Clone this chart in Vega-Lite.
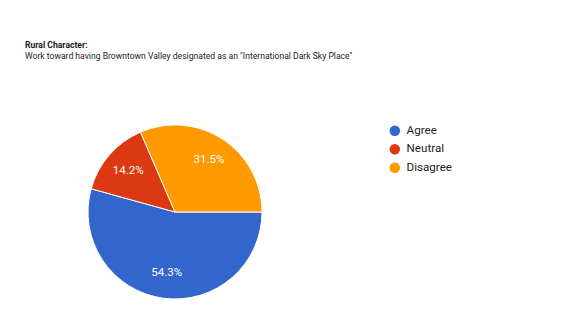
{
  "$schema": "https://vega.github.io/schema/vega-lite/v6.json",
  "width": 174,
  "height": 174,
  "autosize": {"type": "none"},
  "padding": {"left": 88, "top": 125, "right": 315, "bottom": 28},
  "background": "white",
  "title": {
    "text": "Rural Character:",
    "subtitle": "Work toward having Browntown Valley designated as an \"International Dark Sky Place\"",
    "anchor": "start",
    "frame": "group",
    "dx": -63,
    "offset": 62,
    "font": "Roboto",
    "fontSize": 8.6,
    "fontWeight": "bold",
    "color": "#222222",
    "subtitleFont": "Roboto",
    "subtitleFontSize": 8.6,
    "subtitleColor": "#222222",
    "subtitlePadding": 3
  },
  "data": {
    "values": [
      {"response": "Agree", "pct": 54.3, "label": "54.3%", "order": 1},
      {"response": "Neutral", "pct": 14.2, "label": "14.2%", "order": 2},
      {"response": "Disagree", "pct": 31.5, "label": "31.5%", "order": 3}
    ]
  },
  "encoding": {
    "theta": {"field": "pct", "type": "quantitative", "stack": true, "scale": {"range": [1.5708, 7.854]}},
    "order": {"field": "order", "type": "quantitative"},
    "color": {
      "field": "response",
      "type": "nominal",
      "scale": {"domain": ["Agree", "Neutral", "Disagree"], "range": ["#3366cc", "#dc3912", "#ff9900"]},
      "legend": {
        "title": null,
        "orient": "right",
        "offset": 127,
        "symbolType": "circle",
        "symbolSize": 110,
        "symbolStrokeWidth": 0,
        "labelFont": "Roboto",
        "labelFontSize": 11.6,
        "labelColor": "#222222",
        "rowPadding": 5.5,
        "labelOffset": 6
      }
    }
  },
  "layer": [
    {"mark": {"type": "arc", "stroke": "white", "strokeWidth": 1}},
    {
      "mark": {"type": "text", "radius": 62, "font": "Roboto", "fontSize": 11.5, "fill": "white"},
      "encoding": {"text": {"field": "label", "type": "nominal"}}
    }
  ],
  "config": {"view": {"stroke": null}}
}
